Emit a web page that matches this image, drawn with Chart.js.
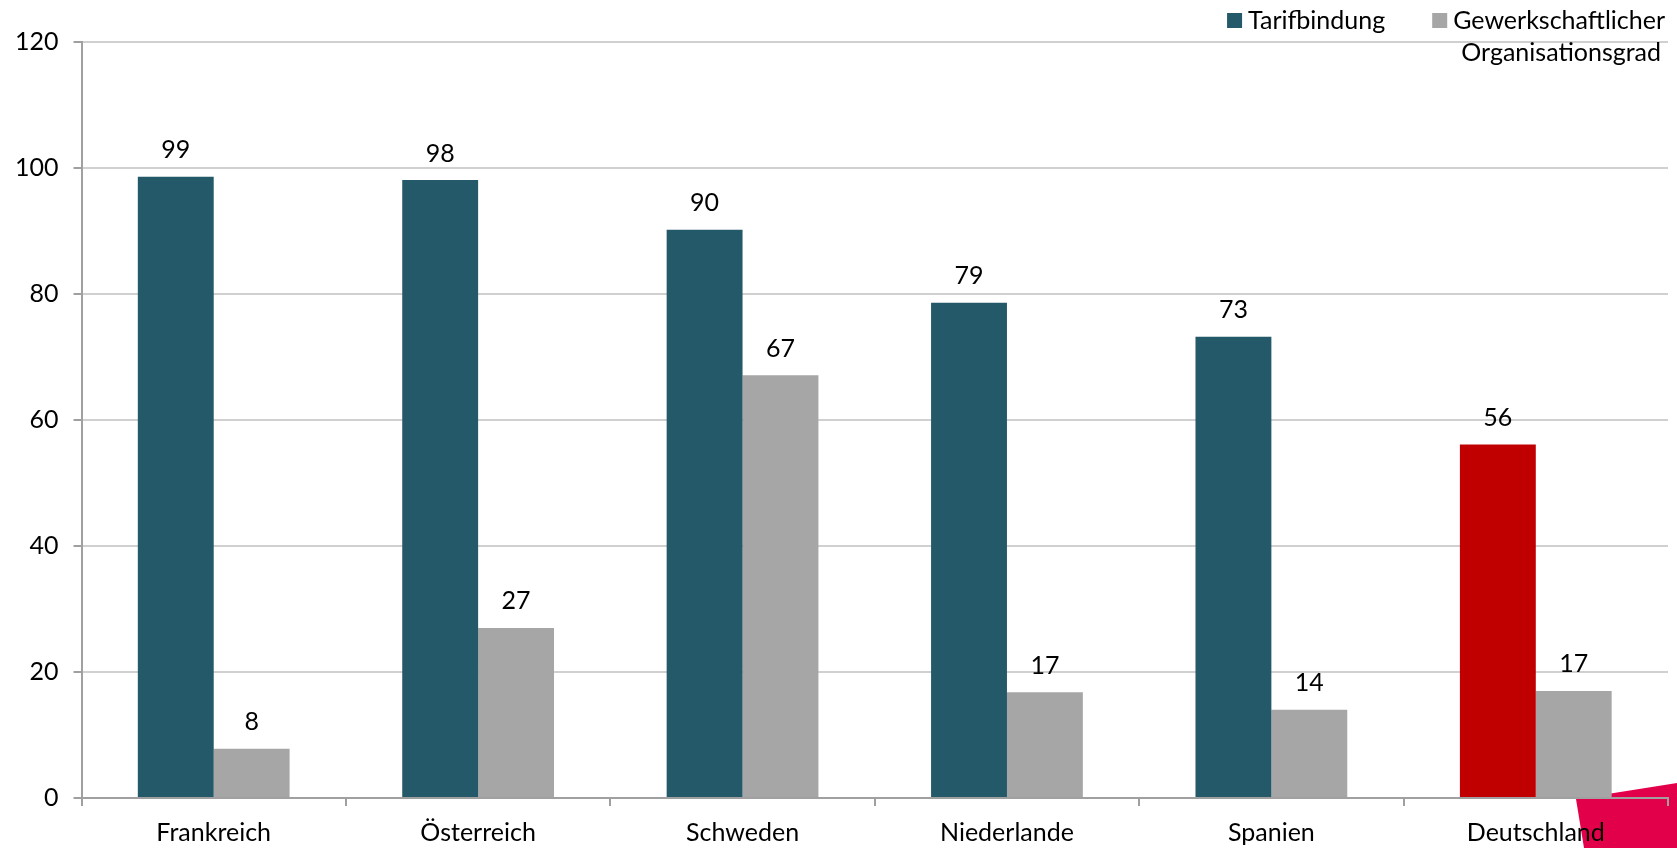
<!DOCTYPE html>
<html>
<head>
<meta charset="utf-8">
<script src="https://cdn.jsdelivr.net/npm/chart.js@4"></script>
<style>
  html, body { margin: 0; padding: 0; background: #fff; }
  #wrap { width: 1677px; height: 848px; position: relative; }
</style>
</head>
<body>
<div id="wrap"><canvas id="c"></canvas></div>
<script>
const categories = ['Frankreich', 'Österreich', 'Schweden', 'Niederlande', 'Spanien', 'Deutschland'];
const tarifbindung = [98.6, 98.1, 90.2, 78.6, 73.2, 56.1];
const organisationsgrad = [7.8, 27.0, 67.1, 16.8, 14.0, 17.0];
const seriesNames = ['Tarifbindung', ['Gewerkschaftlicher', 'Organisationsgrad']];
const yTicks = [0, 20, 40, 60, 80, 100, 120];

const TEAL = '#235968';
const GREY = '#A6A6A6';
const RED = '#C00000';
const FONT = 'Lato';
const FS = 25;

const tarifColors = categories.map(c => c === 'Deutschland' ? RED : TEAL);

const decoPlugin = {
  id: 'deco',
  beforeDraw(chart) {
    const ctx = chart.ctx;
    const W = chart.width, H = chart.height;
    ctx.save();
    ctx.fillStyle = '#E2004A';
    ctx.beginPath();
    ctx.moveTo(W - 101, H - 49);
    ctx.lineTo(W, H - 65);
    ctx.lineTo(W, H);
    ctx.lineTo(W - 93, H);
    ctx.closePath();
    ctx.fill();
    ctx.restore();
  }
};

const labelPlugin = {
  id: 'valueLabels',
  afterDatasetsDraw(chart) {
    const ctx = chart.ctx;
    ctx.save();
    ctx.font = FS + 'px ' + FONT;
    ctx.fillStyle = '#000';
    ctx.textAlign = 'center';
    ctx.textBaseline = 'bottom';
    chart.data.datasets.forEach((ds, di) => {
      const meta = chart.getDatasetMeta(di);
      meta.data.forEach((bar, i) => {
        ctx.fillText(String(Math.round(ds.data[i])), bar.x, bar.y - 14);
      });
    });
    ctx.restore();
  }
};

const legendPlugin = {
  id: 'customLegend',
  afterDraw(chart) {
    const ctx = chart.ctx;
    const right = chart.chartArea.right;
    ctx.save();
    ctx.font = FS + 'px ' + FONT;
    ctx.fillStyle = '#000';
    ctx.textBaseline = 'middle';
    const line1 = seriesNames[1][0], line2 = seriesNames[1][1];
    const w1 = ctx.measureText(line1).width;
    const x2text = right - 3 - w1;
    ctx.textAlign = 'left';
    ctx.fillText(line1, x2text, 21);
    ctx.textAlign = 'right';
    ctx.fillText(line2, right - 7, 53);
    ctx.fillStyle = GREY;
    ctx.fillRect(x2text - 21, 13, 15, 15);
    ctx.textAlign = 'left';
    const wt = ctx.measureText(seriesNames[0]).width;
    const x1text = x2text - 68 - wt;
    ctx.fillStyle = '#000';
    ctx.fillText(seriesNames[0], x1text, 21);
    ctx.fillStyle = TEAL;
    ctx.fillRect(x1text - 21, 13, 15, 15);
    ctx.restore();
  }
};

new Chart(document.getElementById('c'), {
  type: 'bar',
  data: {
    labels: categories,
    datasets: [
      { label: 'Tarifbindung', data: tarifbindung, backgroundColor: tarifColors,
        categoryPercentage: 0.574, barPercentage: 1.0, borderWidth: 0 },
      { label: 'Gewerkschaftlicher Organisationsgrad', data: organisationsgrad, backgroundColor: GREY,
        categoryPercentage: 0.574, barPercentage: 1.0, borderWidth: 0 }
    ]
  },
  options: {
    responsive: true,
    maintainAspectRatio: false,
    animation: false,
    devicePixelRatio: 1,
    layout: { padding: { top: 42, right: 9, left: 0, bottom: -12 } },
    plugins: {
      legend: { display: false },
      tooltip: { enabled: false }
    },
    scales: {
      x: {
        grid: { display: true, drawOnChartArea: false, drawTicks: true, tickLength: 8,
                color: '#A0A0A0', tickColor: '#A0A0A0', offset: true, lineWidth: 2 },
        border: { display: true, color: '#A0A0A0', width: 2 },
        ticks: { color: '#000', font: { family: FONT, size: FS }, padding: 12, maxRotation: 0 }
      },
      y: {
        min: 0, max: 120,
        afterBuildTicks(scale) { scale.ticks = yTicks.map(v => ({ value: v })); },
        grid: { color: '#D0D0D0', lineWidth: 2, tickLength: 8, tickColor: '#A0A0A0' },
        border: { display: true, color: '#A0A0A0', width: 2 },
        ticks: { color: '#000', font: { family: FONT, size: FS }, padding: 15 }
      }
    }
  },
  plugins: [decoPlugin, labelPlugin, legendPlugin]
});
</script>
</body>
</html>
